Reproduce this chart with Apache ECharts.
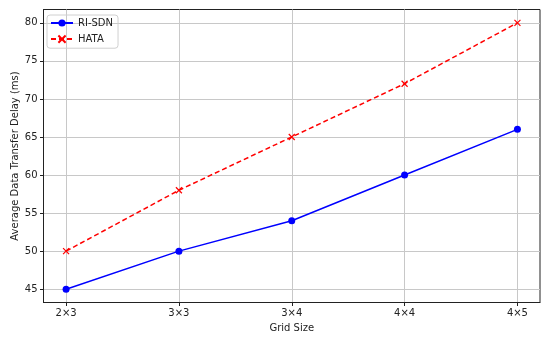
<!DOCTYPE html>
<html>
<head>
<meta charset="utf-8">
<script src="https://cdn.jsdelivr.net/npm/echarts@6/dist/echarts.min.js"></script>
<style>
html, body { margin: 0; padding: 0; background: #fff; }
#main { width: 550px; height: 339px; }
</style>
</head>
<body>
<div id="main"></div>
<script>
// 数据
var categories = ['2×3', '3×3', '3×4', '4×4', '4×5'];
var risdn = [45, 50, 54, 60, 66];
var hata = [50, 58, 65, 72, 80];
var yTicks = [45, 50, 55, 60, 65, 70, 75, 80];
var xTicks = [0, 1, 2, 3, 4];

function pairs(arr) {
	return arr.map(function (v, i) { return [i, v]; });
}

var font = 'DejaVu Sans';
var myChart = echarts.init(document.getElementById('main'));

var option = {
	animation: false,
	backgroundColor: '#fff',
	grid: {
		left: 43.5,
		right: 10,
		top: 9.5,
		bottom: 36.5,
		outerBoundsMode: 'none',
		containLabel: false,
		show: true,
		borderColor: '#222',
		borderWidth: 1
	},
	legend: {
		left: 47,
		top: 15,
		orient: 'vertical',
		itemGap: 5,
		itemWidth: 22,
		itemHeight: 9,
		padding: [3, 5, 3, 3],
		borderColor: '#d0d0d0',
		borderWidth: 1,
		borderRadius: 3,
		textStyle: { fontFamily: font, fontSize: 10, color: '#222' },
		data: ['RI-SDN', 'HATA']
	},
	xAxis: {
		type: 'value',
		min: -0.2,
		max: 4.2,
		name: 'Grid Size',
		nameLocation: 'middle',
		nameGap: 20,
		nameTextStyle: { fontFamily: font, fontSize: 10, color: '#222' },
		axisLine: { show: true, onZero: false, lineStyle: { color: '#222' } },
		axisTick: { show: true, length: 3.5, customValues: xTicks, lineStyle: { color: '#222' } },
		axisLabel: {
			customValues: xTicks,
			fontFamily: font, fontSize: 10, color: '#222', margin: 6,
			formatter: function (v) { return categories[v] || ''; }
		},
		splitLine: { show: true, customValues: xTicks, lineStyle: { color: '#c8c8c8', width: 1 } }
	},
	yAxis: {
		type: 'value',
		min: 43.25,
		max: 81.75,
		name: 'Average Data Transfer Delay (ms)',
		nameLocation: 'middle',
		nameGap: 23,
		nameMoveOverlap: false,
		nameTextStyle: { fontFamily: font, fontSize: 10, color: '#222' },
		axisLine: { show: true, onZero: false, lineStyle: { color: '#222' } },
		axisTick: { show: true, length: 3.5, customValues: yTicks, lineStyle: { color: '#222' } },
		axisLabel: { customValues: yTicks, fontFamily: font, fontSize: 10, color: '#222', margin: 6 },
		splitLine: { show: true, customValues: yTicks, lineStyle: { color: '#c8c8c8', width: 1 } }
	},
	series: [{
		name: 'RI-SDN',
		type: 'line',
		data: pairs(risdn),
		symbol: 'circle',
		symbolSize: 7,
		itemStyle: { color: '#0000ff' },
		lineStyle: { color: '#0000ff', width: 1.5 }
	}, {
		name: 'HATA',
		type: 'line',
		data: pairs(hata),
		symbol: 'path://M0,0 L10,10 M10,0 L0,10',
		symbolSize: 6,
		itemStyle: { color: 'none', borderColor: '#ff0000', borderWidth: 1.2 },
		lineStyle: { color: '#ff0000', width: 1.5, type: [5, 3] }
	}]
};

myChart.setOption(option);
</script>
</body>
</html>
